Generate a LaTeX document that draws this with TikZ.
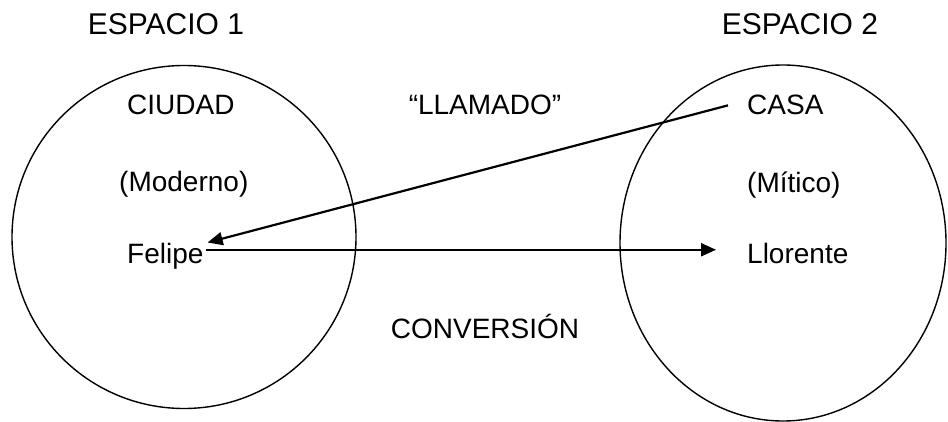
\documentclass[tikz,border=0pt]{standalone}
\usepackage{fontspec}
\setmainfont{Liberation Sans}
\usetikzlibrary{arrows.meta,shapes.geometric}
\begin{document}
\begin{tikzpicture}[x=1pt,y=1pt,
  lbl/.style={inner sep=0pt,anchor=base west,font=\fontsize{28}{30}\selectfont},
  ttl/.style={inner sep=0pt,anchor=base,font=\fontsize{30}{32}\selectfont},
  ring/.style={draw,line width=1.4pt,ellipse,inner sep=0pt},
  conn/.style={line width=2.2pt,-{Triangle[length=15pt,width=13pt]}}]
\useasboundingbox (0,0) rectangle (948,421);
\node[ring,minimum width=344pt,minimum height=343pt] (esp1) at (184,184) {};
\node[ring,minimum width=326pt,minimum height=356pt] (esp2) at (783,178) {};
\node[ttl] (t1) at (166,386) {ESPACIO 1};
\node[ttl] (t2) at (800,386) {ESPACIO 2};
\node[lbl] (ciudad) at (127,306) {CIUDAD};
\node[lbl] (moderno) at (119,229) {(Moderno)};
\node[lbl] (felipe) at (127,158) {Felipe};
\node[lbl,anchor=base] (llamado) at (485,306) {“LLAMADO”};
\node[lbl] (casa) at (747,306) {CASA};
\node[lbl] (mitico) at (747,228) {(Mítico)};
\node[lbl] (llorente) at (747,158) {Llorente};
\node[lbl,anchor=base] (conv) at (485,83) {CONVERSIÓN};
\coordinate (fs) at ([xshift=2pt,yshift=6pt]felipe.east);
\coordinate (le) at ([xshift=-31pt]fs -| llorente.west);
\draw[conn] ([xshift=-19pt]casa.west) -- ([xshift=4pt]felipe.north east);
\draw[conn] (fs) -- (le);
\end{tikzpicture}
\end{document}
